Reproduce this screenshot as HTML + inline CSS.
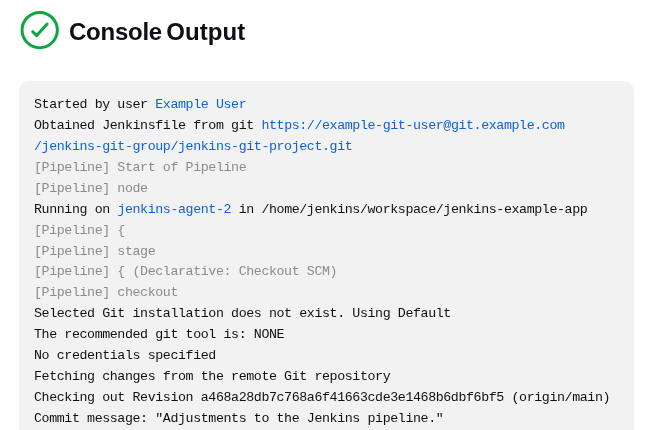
<!DOCTYPE html>
<html><head><meta charset="utf-8">
<style>
html,body{margin:0;padding:0;background:#fff;width:650px;height:430px;overflow:hidden;}
body{font-family:"Liberation Sans",sans-serif;color:#101018;position:relative;}
#w{position:absolute;left:0;top:0;width:650px;height:430px;overflow:hidden;will-change:transform;}
svg.ic{position:absolute;left:0;top:0;}
h1{position:absolute;left:69px;top:11.7px;margin:0;font-size:24px;font-weight:700;line-height:40px;white-space:nowrap;letter-spacing:-0.2px;color:#0e0e16;}
.c1{letter-spacing:-0.25px;}
.c2{position:absolute;left:97.3px;top:0;letter-spacing:0.05px;}
pre{position:absolute;left:19px;top:81px;width:615px;height:400px;margin:0;box-sizing:border-box;background:#f2f2f2;border-radius:10px;
 padding:14.2px 15px;font-family:"Liberation Mono",monospace;font-size:13.3px;letter-spacing:-0.4px;line-height:20.9px;color:#101018;}
a{color:#0b62d9;text-decoration:none;}
.g{color:#8c8c8c;}
</style></head><body>
<div id="w">
<svg class="ic" width="70" height="60" viewBox="0 0 70 60"><circle cx="39.7" cy="30.05" r="17.65" fill="none" stroke="#0fa640" stroke-width="3"/><path d="M32.7 31.7 L36.7 35.6 L47.1 24.1" fill="none" stroke="#0fa640" stroke-width="3" stroke-linecap="round" stroke-linejoin="round"/></svg>
<h1><span class="c1">Console</span><span class="c2">Output</span></h1>
<pre>Started by user <a>Example User</a>
Obtained Jenkinsfile from git <a>https://example-git-user@git.example.com
/jenkins-git-group/jenkins-git-project.git</a>
<span class="g">[Pipeline] Start of Pipeline</span>
<span class="g">[Pipeline] node</span>
Running on <a>jenkins-agent-2</a> in /home/jenkins/workspace/jenkins-example-app
<span class="g">[Pipeline] {</span>
<span class="g">[Pipeline] stage</span>
<span class="g">[Pipeline] { (Declarative: Checkout SCM)</span>
<span class="g">[Pipeline] checkout</span>
Selected Git installation does not exist. Using Default
The recommended git tool is: NONE
No credentials specified
Fetching changes from the remote Git repository
Checking out Revision a468a28db7c768a6f41663cde3e1468b6dbf6bf5 (origin/main)
Commit message: "Adjustments to the Jenkins pipeline."
</pre>
</div>
</body></html>
